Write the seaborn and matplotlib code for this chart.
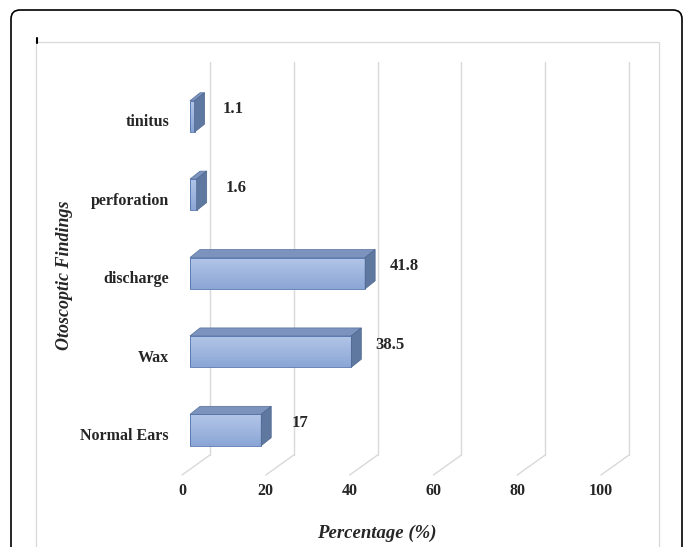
import numpy as np
import pandas as pd
import seaborn as sns
import matplotlib.pyplot as plt
from matplotlib.patches import Polygon, FancyBboxPatch, Rectangle
from matplotlib.lines import Line2D
from matplotlib.colors import LinearSegmentedColormap
from matplotlib.transforms import IdentityTransform

# dados
findings = ["Normal Ears", "Wax", "discharge", "perforation", "tinitus"]
percent = [17, 38.5, 41.8, 1.6, 1.1]
ticks = [0, 20, 40, 60, 80, 100]

W, H = 683, 547

sns.set_style("white")
plt.rcParams['font.family'] = ['Liberation Serif', 'DejaVu Serif']

fig = plt.figure(figsize=(W / 100, H / 100), dpi=100)
ax = fig.add_axes([0, 0, 1, 1])

# geometria em pixels (imitando o gráfico 3D do Excel)
px_unit = 4.19   # pixels por ponto percentual
x0_px = 190      # face frontal das barras em 0
row_px = 78.4    # distância entre categorias
y0_px = 430      # centro de "Normal Ears"


def to_x(px):
    return (px - x0_px) / px_unit


def to_y(py):
    return (y0_px - py) / row_px


bar_dx, bar_dy = 10 / px_unit, 8 / row_px   # profundidade da barra
wall_dx = 20 / px_unit                      # parede do fundo
floor_dx = -8 / px_unit                     # borda frontal do chão

df = pd.DataFrame({"finding": findings, "percent": percent})
sns.barplot(data=df, x="percent", y="finding", order=findings, orient="h",
            width=0.4, color="#9db4de", edgecolor="#4f73ad", linewidth=0.6,
            ax=ax, zorder=4)

# gradiente na face frontal + faces de cima e lateral
cmap = LinearSegmentedColormap.from_list("front", ["#8ba6d5", "#b3c6e8"])
grad = np.linspace(0, 1, 64).reshape(-1, 1)
for p in list(ax.patches):
    x, y = p.get_x(), p.get_y()
    w, h = p.get_width(), p.get_height()
    ax.imshow(grad, extent=[x, x + w, y, y + h], origin="lower", cmap=cmap,
              aspect="auto", zorder=3)
    p.set_facecolor("none")
    top = [(x, y + h), (x + w, y + h), (x + w + bar_dx, y + h + bar_dy), (x + bar_dx, y + h + bar_dy)]
    side = [(x + w, y), (x + w + bar_dx, y + bar_dy), (x + w + bar_dx, y + h + bar_dy), (x + w, y + h)]
    ax.add_patch(Polygon(top, closed=True, fc="#7c93be", ec="#56709c", lw=0.5, zorder=4))
    ax.add_patch(Polygon(side, closed=True, fc="#5f789f", ec="#4d6690", lw=0.5, zorder=4))

# linhas de grade (parede do fundo + chão)
for t in ticks:
    ax.plot([t + wall_dx, t + wall_dx], [to_y(455), to_y(62)], color="#d9d9d9", lw=1, zorder=1)
    ax.plot([t + wall_dx, t + floor_dx], [to_y(455), to_y(475)], color="#d9d9d9", lw=1, zorder=1)
    ax.text(t + floor_dx, to_y(491), str(t), ha="center", va="center",
            fontsize=11.5, fontweight="bold")

# rótulos das categorias
for i, name in enumerate(findings):
    ax.text(to_x(169), i - 6 / row_px, name, ha="right", va="center",
            fontsize=11.5, fontweight="bold")

# valores
for i, v in enumerate(percent):
    ax.text(v + 9.3, i + 7 / row_px, f"{v:g}", ha="center", va="center",
            fontsize=12, fontweight="bold")

ax.text(to_x(377), to_y(533), "Percentage (%)", ha="center", va="center",
        fontsize=13.5, fontweight="bold", fontstyle="italic")
ax.text(to_x(65), to_y(275), "Otoscoptic Findings", ha="center", va="center",
        rotation=90, fontsize=13, fontweight="bold", fontstyle="italic")

ax.set_xlim(to_x(0), to_x(W))
ax.set_ylim(to_y(H), to_y(0))
ax.axis("off")

# moldura externa e área do gráfico
fig.add_artist(FancyBboxPatch((11, -20), 671, H - 10 + 20,
                              boxstyle="round,pad=0,rounding_size=9",
                              transform=IdentityTransform(), fc="none", ec="black", lw=1.2))
fig.add_artist(Rectangle((36, -20), 623, H - 42 + 20, transform=IdentityTransform(),
                         fc="none", ec="#d9d9d9", lw=0.9))
fig.add_artist(Line2D([37, 37], [H - 38, H - 43], transform=IdentityTransform(),
                      color="black", lw=1.5))

fig.savefig("out.png", dpi=100)
